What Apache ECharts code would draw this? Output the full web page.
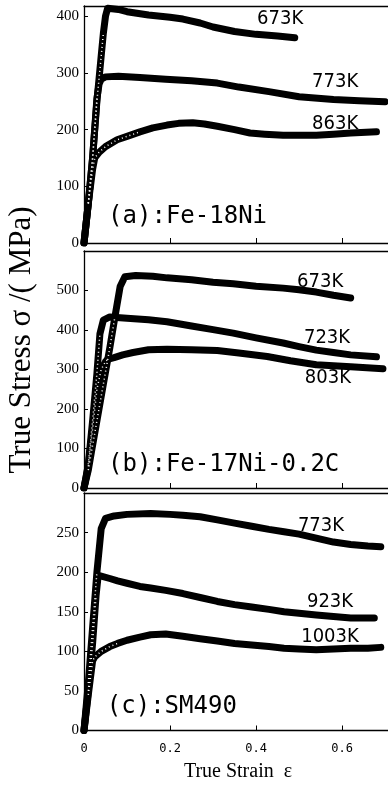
<!DOCTYPE html>
<html><head><meta charset="utf-8">
<script src="https://cdn.jsdelivr.net/npm/echarts@6/dist/echarts.min.js"></script>
<style>html,body{margin:0;padding:0;background:#fff;overflow:hidden}#c{width:388px;height:787px}</style>
</head><body><div id="c"></div>
<script>
// ---- Panel (a): Fe-18Ni ----
const a673x = [0,0.01,0.02,0.03,0.04,0.045,0.05,0.055,0.08,0.1,0.15,0.2,0.23,0.27,0.3,0.35,0.4,0.45,0.49];
const a673y = [0,70,150,250,330,370,400,414,412,408,402,398,395,388,381,373,368,365,362];
const a773x = [0,0.01,0.02,0.03,0.035,0.04,0.05,0.08,0.13,0.19,0.25,0.31,0.36,0.43,0.5,0.58,0.64,0.7];
const a773y = [0,70,150,255,280,289,293,294,292,289,286,282,275,267,258,253,251,249];
const a863x = [0,0.01,0.02,0.025,0.035,0.05,0.077,0.1,0.13,0.16,0.193,0.22,0.253,0.28,0.31,0.35,0.386,0.42,0.463,0.5,0.54,0.58,0.62,0.68];
const a863y = [0,70,130,150,160,170,182,188,196,203,208,211,212,210,206,200,194,192,190,190,190,192,194,196];
// ---- Panel (b): Fe-17Ni-0.2C ----
const b673x = [0,0.01,0.018,0.03,0.045,0.06,0.072,0.084,0.095,0.12,0.16,0.193,0.25,0.3,0.347,0.4,0.463,0.5,0.54,0.58,0.62];
const b673y = [0,45,96,170,263,355,434,510,535,538,536,532,527,521,517,511,506,502,496,488,481];
const b723x = [0,0.01,0.02,0.03,0.037,0.045,0.06,0.1,0.15,0.193,0.25,0.3,0.347,0.4,0.463,0.5,0.54,0.58,0.62,0.68];
const b723y = [0,60,170,290,390,425,433,430,426,421,410,401,392,380,367,358,349,343,337,332];
const b803x = [0,0.01,0.02,0.03,0.04,0.05,0.055,0.07,0.09,0.114,0.15,0.193,0.25,0.31,0.36,0.426,0.48,0.54,0.62,0.695];
const b803y = [0,55,150,250,300,320,326,330,337,343,350,351,350,348,342,333,322,312,307,302];
// ---- Panel (c): SM490 ----
const c773x = [0,0.01,0.02,0.03,0.04,0.05,0.07,0.1,0.155,0.2,0.23,0.27,0.31,0.35,0.39,0.43,0.465,0.5,0.54,0.58,0.62,0.66,0.69];
const c773y = [0,60,130,200,255,268,271,273,274,273,272,270,266,262,258,254,251,248,243,238,235,233,232];
const c923x = [0,0.01,0.02,0.028,0.033,0.04,0.06,0.078,0.1,0.13,0.155,0.19,0.23,0.27,0.31,0.35,0.39,0.43,0.465,0.5,0.54,0.58,0.62,0.675];
const c923y = [0,50,110,170,196,195,192,189,186,182,180,177,173,168,163,159,156,153,150,148,146,144,142,142];
const c1003x = [0,0.01,0.02,0.025,0.04,0.06,0.078,0.1,0.13,0.155,0.19,0.23,0.27,0.31,0.35,0.39,0.43,0.465,0.5,0.54,0.58,0.62,0.66,0.69];
const c1003y = [0,45,88,93,100,106,110,114,118,121,122,119,116,113,110,108,106,104,103,102,103,104,104,105];

// Axis settings
const yMax = [418, 600, 300];
const yStep = [100, 100, 50];
const xMax = 0.744;
const xStep = 0.2;

// Text
const tempLabels = [['673K','773K','863K'], ['673K','723K','803K'], ['773K','923K','1003K']];
const tempAnchors = [[[0.456,396],[0.584,284],[0.584,211]], [[0.549,522],[0.565,379],[0.567,278]], [[0.551,259],[0.572,163],[0.572,118]]];
const panelNames = ['(a):Fe-18Ni', '(b):Fe-17Ni-0.2C', '(c):SM490'];
const panelAnchors = [[0.056,46],[0.056,58],[0.053,30]];
const yTitle = 'True Stress σ /( MPa)';
const xTitle = 'True Strain  ε';

const curves = [
  [[a673x,a673y],[a773x,a773y],[a863x,a863y]],
  [[b673x,b673y],[b723x,b723y],[b803x,b803y]],
  [[c773x,c773y],[c923x,c923y],[c1003x,c1003y]]
];

const tops = [6, 251, 493];
const heights = [237, 237, 237.5];
const grids = [], xAxes = [], yAxes = [], series = [];
for (let i = 0; i < 3; i++) {
  grids.push({left: 84, top: tops[i], width: 320, height: heights[i], show: false,
    outerBoundsMode: 'none', containLabel: false});
  xAxes.push({type: 'value', gridIndex: i, position: 'bottom', min: 0, max: xMax, interval: xStep,
    axisLine: {show: true, onZero: false, lineStyle: {color: '#000', width: 1.3}},
    axisTick: {show: true, inside: true, length: 5, lineStyle: {color: '#000', width: 1}},
    splitLine: {show: false},
    axisLabel: {show: i === 2, showMaxLabel: false, color: '#000', fontFamily: "'DejaVu Sans Mono', monospace", fontSize: 12, margin: 12,
      formatter: v => String(Math.round(v * 10) / 10)}
  });
  xAxes.push({type: 'value', gridIndex: i, position: 'top', min: 0, max: xMax, interval: xStep,
    axisLine: {show: true, onZero: false, lineStyle: {color: '#000', width: 1.3}},
    axisTick: {show: false}, axisLabel: {show: false}, splitLine: {show: false}
  });
  yAxes.push({type: 'value', gridIndex: i, min: 0, max: yMax[i], interval: yStep[i],
    axisLine: {show: true, onZero: false, lineStyle: {color: '#000', width: 1.3}},
    axisTick: {show: true, inside: true, length: 4, lineStyle: {color: '#000', width: 1}},
    splitLine: {show: false},
    axisLabel: {show: true, showMaxLabel: false, color: '#000', fontFamily: "'Liberation Serif', 'DejaVu Serif', serif", fontSize: 15, margin: 5}
  });
  curves[i].forEach((c, k) => {
    const pts = c[0].map((x, j) => [x, c[1][j]]);
    series.push({type: 'line', xAxisIndex: 2 * i, yAxisIndex: i, showSymbol: false, symbol: 'none',
      data: pts,
      lineStyle: {color: '#000', width: 7, cap: 'round', join: 'round'}, z: 2, silent: true});
    const peak = Math.max.apply(null, c[1]);
    let n = c[1].findIndex(v => v >= 0.93 * peak);
    series.push({type: 'line', xAxisIndex: 2 * i, yAxisIndex: i, showSymbol: false, symbol: 'none',
      data: pts.slice(1, n),
      lineStyle: {color: '#fff', width: 1.5, type: [1, 3]}, z: 3, silent: true});
  });
  series.push({type: 'scatter', xAxisIndex: 2 * i, yAxisIndex: i, symbolSize: 0,
    itemStyle: {color: '#000', opacity: 1}, z: 5, silent: true,
    data: tempLabels[i].map((t, k) => ({name: t, value: tempAnchors[i][k]})),
    label: {show: true, position: 'inside', formatter: p => p.name, color: '#000', opacity: 1, textBorderWidth: 0,
      fontFamily: "'Liberation Sans Narrow','DejaVu Sans Condensed','DejaVu Sans'", fontSize: 20}
  });
  series.push({type: 'scatter', xAxisIndex: 2 * i, yAxisIndex: i, symbolSize: 0,
    itemStyle: {color: '#000', opacity: 1}, z: 5, silent: true,
    data: [{name: panelNames[i], value: panelAnchors[i]}],
    label: {show: true, position: 'right', distance: 0, formatter: p => p.name, color: '#000', opacity: 1, textBorderWidth: 0,
      fontFamily: "'DejaVu Sans Mono', monospace", fontSize: 24}
  });
}

const chart = echarts.init(document.getElementById('c'), null, {renderer: 'canvas'});
chart.setOption({
  animation: false,
  backgroundColor: '#fff',
  grid: grids, xAxis: xAxes, yAxis: yAxes, series: series,
  graphic: [
    {type: 'text', x: 22, y: 340, rotation: Math.PI / 2,
      style: {text: yTitle, font: "31px 'Liberation Serif'", fill: '#000', textAlign: 'center', textVerticalAlign: 'middle'}},
    {type: 'text', x: 238, y: 772,
      style: {text: xTitle, font: "20px 'Liberation Serif'", fill: '#000', textAlign: 'center', textVerticalAlign: 'middle'}}
  ]
});
</script>
</body></html>
